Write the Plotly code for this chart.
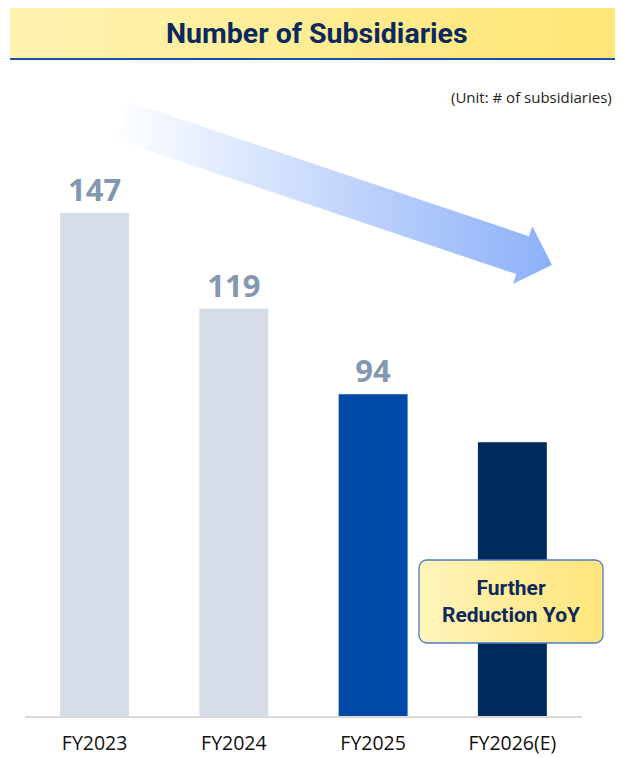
import numpy as np
import plotly.graph_objects as go

# ---------------- data ----------------
categories = ["FY2023", "FY2024", "FY2025", "FY2026(E)"]
subsidiaries = [147, 119, 94, 80]
value_labels = ["147", "119", "94", ""]
bar_colors = ["#d6dce5", "#d6dce5", "#0049a6", "#00295c"]

title_text = "Number of Subsidiaries"
unit_text = "(Unit: # of subsidiaries)"
callout_text = "Further<br>Reduction YoY"

W, H = 623, 758        # page size
OFF = 8                # default page body margin
FW, FH = W - OFF, H - OFF
BASE_PX = 716          # page row of the baseline
PX_PER_UNIT = 503 / 147
Y_MAX = 180


def px_x(px):
    return (px - OFF) / FW


def px_y(py):
    return (H - py) / FH


fig = go.Figure()

# ---------------- bars (data scale) ----------------
fig.add_trace(go.Bar(
    x=categories, y=subsidiaries,
    marker=dict(color=bar_colors, line=dict(width=0)),
    width=0.495,
    text=value_labels, textposition="outside",
    textfont=dict(family="Open Sans", size=31, color="#8497b0", weight="bold"),
    cliponaxis=False, hoverinfo="skip",
    xaxis="x", yaxis="y",
))


# ---------------- decorations on a pixel overlay axis ----------------
def deco(xs, ys, cscale, line=None):
    return go.Scatter(
        x=xs, y=ys, mode="lines", fill="toself",
        fillgradient=dict(type="horizontal", colorscale=cscale),
        line=line or dict(width=0, color="rgba(0,0,0,0)"),
        hoverinfo="skip", showlegend=False, xaxis="x2", yaxis="y2",
    )


# title band
fig.add_trace(deco([10, 623, 623, 10, 10], [5, 5, 59, 59, 5],
                   [[0, "#fff3b2"], [1, "#ffe574"]]))

# arrow
S = np.array([123.0, 121.0])
T = np.array([552.0, 265.0])
u = (T - S) / np.linalg.norm(T - S)
n = np.array([-u[1], u[0]])
L = np.linalg.norm(T - S)
hw, head_len, head_hw = 20, 31, 30.5
B = S + (L - head_len) * u
pts = [S - hw * n, B - hw * n, B - head_hw * n, T, B + head_hw * n, B + hw * n, S + hw * n, S - hw * n]
fig.add_trace(deco([p[0] for p in pts], [p[1] for p in pts],
                   [[0, "rgba(246,249,255,0.3)"], [0.12, "#f0f5fe"], [1, "#8cb0f8"]]))

# rounded callout box
x0, x1, y0, y1, r = 419, 603, 560, 643, 8
xs, ys = [], []
for cx, cy, a0 in [(x1 - r, y0 + r, -90), (x1 - r, y1 - r, 0), (x0 + r, y1 - r, 90), (x0 + r, y0 + r, 180)]:
    a = np.radians(np.linspace(a0, a0 + 90, 8))
    xs += list(cx + r * np.cos(a))
    ys += list(cy + r * np.sin(a))
xs.append(xs[0]); ys.append(ys[0])
fig.add_trace(deco(xs, ys, [[0, "#fff4ba"], [1, "#ffe57a"]],
                   line=dict(width=1.3, color="#4a7cc8")))

# ---------------- layout ----------------
fig.update_layout(
    width=FW, height=FH, template="none",
    margin=dict(l=0, r=0, t=0, b=0),
    paper_bgcolor="white", plot_bgcolor="rgba(0,0,0,0)",
    showlegend=False,
    xaxis=dict(domain=[px_x(25), px_x(582)], range=[-0.5, 3.5], showgrid=False,
               showline=True, linecolor="#d9d9d9", linewidth=2, ticks="",
               tickfont=dict(family="Open Sans", size=19.5, color="#111111"),
               automargin=False, fixedrange=True, zeroline=False, ticklabelstandoff=9),
    yaxis=dict(domain=[px_y(BASE_PX), px_y(BASE_PX - Y_MAX * PX_PER_UNIT)],
               range=[0, Y_MAX], visible=False, showgrid=False, automargin=False,
               fixedrange=True, zeroline=False),
    xaxis2=dict(domain=[0, 1], range=[OFF, W], visible=False, anchor="y2", fixedrange=True),
    yaxis2=dict(domain=[0, 1], range=[H, OFF], visible=False, anchor="x2", fixedrange=True),
    shapes=[
        dict(type="line", xref="x2", yref="y2", x0=10, x1=623, y0=5, y1=5,
             line=dict(color="#1c4fa0", width=2)),
        dict(type="line", xref="x2", yref="y2", x0=10, x1=623, y0=59, y1=59,
             line=dict(color="#1c4fa0", width=2)),
    ],
    annotations=[
        dict(text=title_text, xref="x2", yref="y2", x=317, y=33, showarrow=False,
             font=dict(family="Roboto", size=28.5, color="#0a2a5e", weight="bold")),
        dict(text=unit_text, xref="x2", yref="y2", x=614, y=97, xanchor="right", showarrow=False,
             font=dict(family="Open Sans", size=15, color="#222222")),
        dict(text=callout_text, xref="x2", yref="y2", x=511, y=601, showarrow=False,
             font=dict(family="Roboto", size=21, color="#0d2a5c", weight="bold")),
    ],
)

fig.write_html("out.html")
